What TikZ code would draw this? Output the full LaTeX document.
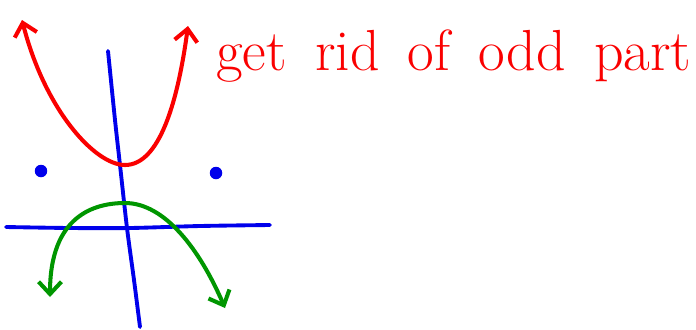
\documentclass[tikz,border=0pt]{standalone}
\usepackage{tikz}
\usetikzlibrary{arrows.meta}
\definecolor{penred}{RGB}{250,0,0}
\definecolor{penblue}{RGB}{0,0,235}
\definecolor{pengreen}{RGB}{0,150,0}
\newcommand\notefont{\fontsize{33}{40}\selectfont\spaceskip=16pt\relax}

\begin{document}
\begin{tikzpicture}[x=0.02cm, y=-0.02cm, line cap=round, line join=round,
  axis/.style={draw=penblue, line width=2.2pt},
  parab/.style={line width=2.3pt, {Straight Barb[length=7pt, width=13pt]}-{Straight Barb[length=7pt, width=13pt]}},
  dot/.style={circle, fill=penblue, inner sep=0pt, minimum size=0.25cm},
  note/.style={text=penred, anchor=west, inner sep=0pt, font=\notefont}]
 \useasboundingbox (0,0) rectangle (696,329);
 \draw[axis] plot[smooth] coordinates {(6,227) (70,228) (130,228) (200,226) (270,225)};
 \draw[axis] plot[smooth] coordinates {(108,51) (115,120) (120,165) (127,228) (134,280) (140,327)};
 \node[dot] (dotL) at (41,171) {};
 \node[dot] (dotR) at (216,173) {};
 \draw[parab, penred] (22,20) .. controls (45,110) and (95,165) .. (125,165) .. controls (160,165) and (178,100) .. (188,26);
 \draw[parab, pengreen] (50,297) .. controls (50,215) and (95,203) .. (125,203) .. controls (165,203) and (200,250) .. (225,308);
 \node[note] (odd) at (216,56) {get rid of odd part};
\end{tikzpicture}
\end{document}
